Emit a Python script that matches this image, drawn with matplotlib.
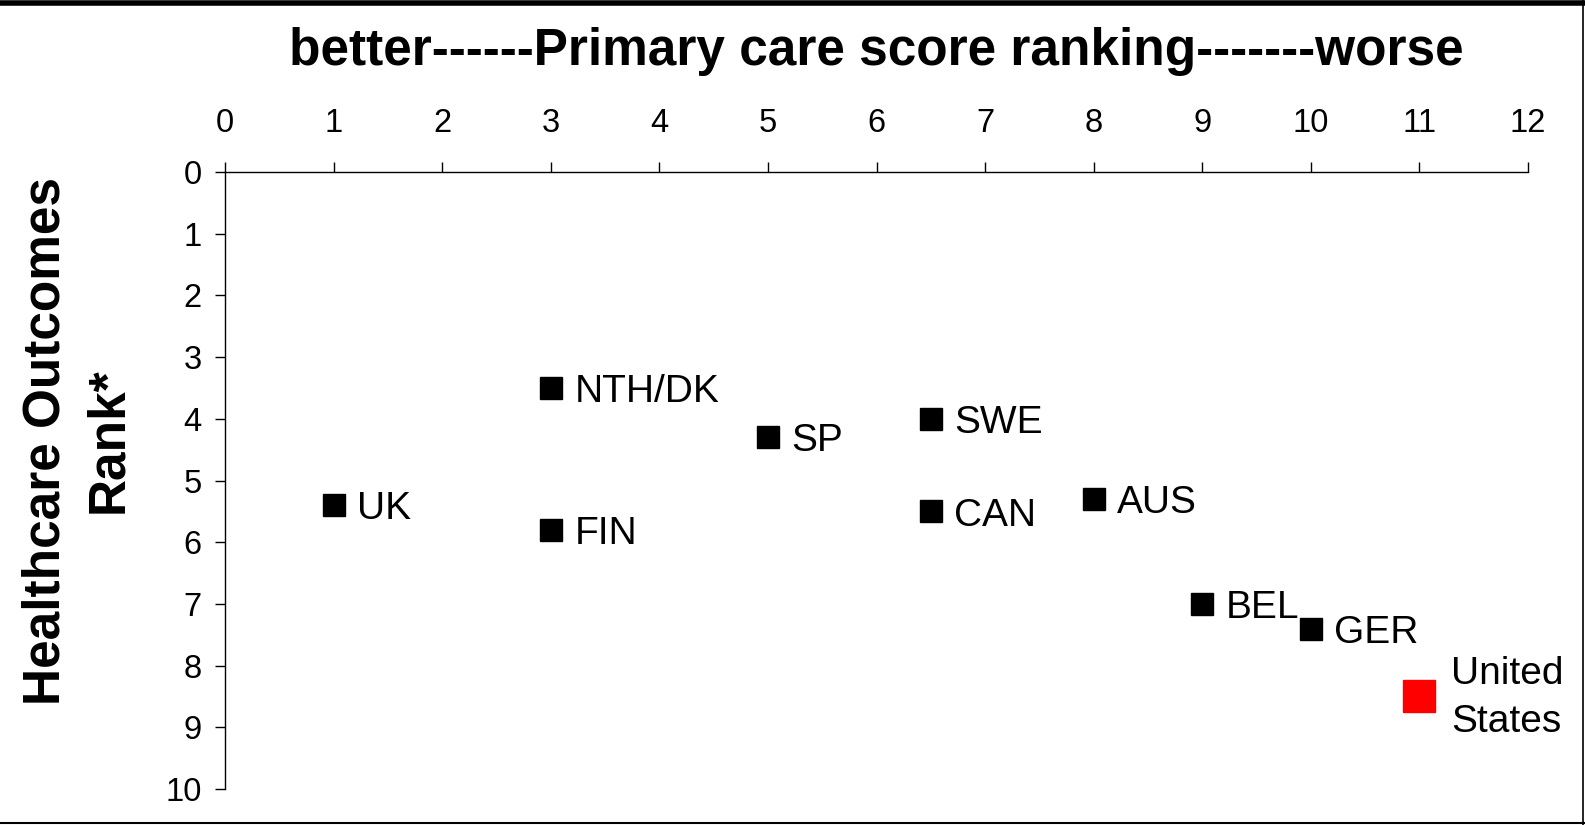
import matplotlib.pyplot as plt
from matplotlib.lines import Line2D

plt.rcParams['font.family'] = ['Liberation Sans', 'DejaVu Sans']

# primary care score ranking (x) vs healthcare outcomes rank (y)
countries = ['UK', 'NTH/DK', 'FIN', 'SP', 'SWE', 'CAN', 'AUS', 'BEL', 'GER']
primary_rank = [1, 3, 3, 5, 6.5, 6.5, 8, 9, 10]
outcome_rank = [5.4, 3.5, 5.8, 4.3, 4.0, 5.5, 5.3, 7.0, 7.4]
us_label = 'United\nStates'
us_primary = 11
us_outcome = 8.5

fig = plt.figure(figsize=(15.85, 8.25), dpi=100)
ax = fig.add_axes([0.142, 0.0436, 0.822, 0.7479])

ax.plot(primary_rank, outcome_rank, 's', color='black', markersize=15.5, linestyle='none')
ax.plot([us_primary], [us_outcome], 's', color='#ff0000', markersize=23, linestyle='none')

for name, x, y in zip(countries, primary_rank, outcome_rank):
    ax.annotate(name, (x, y), xytext=(17, -3), textcoords='offset points',
                va='center', ha='left', fontsize=28)
ax.annotate(us_label, (us_primary, us_outcome), xytext=(23, -1), textcoords='offset points',
            va='center', ha='left', fontsize=28, linespacing=1.45)

ax.set_xlim(0, 12)
ax.set_ylim(10, 0)
ax.set_xticks(range(0, 13))
ax.set_yticks(range(0, 11))
ax.xaxis.tick_top()
ax.tick_params(axis='x', direction='out', length=7, width=1, pad=17, labelsize=23.5)
ax.tick_params(axis='y', direction='out', length=7, width=1, pad=10, labelsize=23.5)
for side in ['right', 'bottom']:
    ax.spines[side].set_visible(False)
for side in ['left', 'top']:
    ax.spines[side].set_linewidth(1)

fig.text(0.553, 0.937, 'better------Primary care score ranking-------worse',
         ha='center', va='center', fontsize=37, fontweight='bold')
fig.text(0.0488, 0.466, 'Healthcare Outcomes\nRank*', ha='center', va='center',
         rotation=90, fontsize=37, fontweight='bold', linespacing=1.38)

# frame around the figure
fig.add_artist(Line2D([0, 1], [0.9965, 0.9965], transform=fig.transFigure, color='black', linewidth=4))
fig.add_artist(Line2D([0, 1], [0.002, 0.002], transform=fig.transFigure, color='black', linewidth=1.5))
fig.add_artist(Line2D([0.9985, 0.9985], [0, 1], transform=fig.transFigure, color='black', linewidth=1.2))

fig.savefig('out.png', dpi=100)
